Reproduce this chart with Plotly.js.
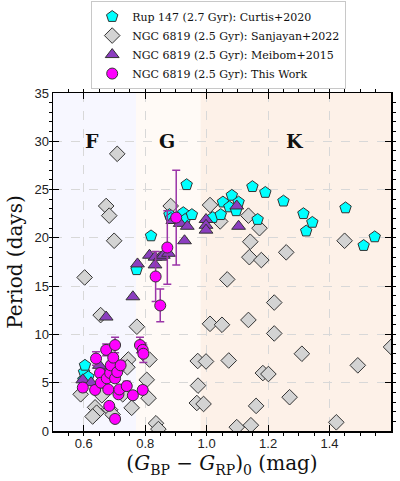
<!DOCTYPE html>
<html><head><meta charset="utf-8">
<script src="https://cdn.plot.ly/plotly-3.0.1.min.js"></script>
<style>html,body{margin:0;padding:0;background:#fff}#chart{width:400px;height:481px}</style>
</head><body><div id="chart"></div>
<script>
// Rup 147 (Curtis+2020)
const curtisX = [0.599,0.601,0.604,0.615,0.772,0.819,0.879,0.884,0.924,0.930,0.935,0.952,1.020,1.046,1.053,1.074,1.082,1.096,1.104,1.149,1.166,1.191,1.250,1.315,1.324,1.344,1.452,1.511,1.547];
const curtisY = [5.3,6.1,6.8,5.6,16.7,20.2,22.4,22.0,22.6,21.9,25.5,22.4,22.1,22.4,23.7,23.2,24.4,22.8,23.7,25.3,21.9,24.7,23.8,22.5,20.7,21.6,23.1,19.2,20.1];
// NGC 6819 (Sanjayan+2022)
const sanjX = [0.709,0.673,0.683,0.699,0.603,0.655,0.883,1.011,1.044,1.136,1.172,1.142,1.139,1.178,1.259,1.067,1.449,1.220,0.773,1.011,1.050,1.136,1.220,1.310,1.600,1.492,0.745,0.814,0.971,0.998,1.072,1.183,1.201,0.805,0.742,0.972,0.590,0.659,0.727,0.811,0.968,0.990,1.270,1.161,0.637,0.642,0.629,0.686,0.694,0.756,0.835,0.843,1.098,1.144,1.422];
const sanjY = [28.7,23.3,22.3,19.7,15.9,12.0,23.3,23.4,21.7,22.3,21.0,19.6,18.0,17.7,18.5,15.7,19.7,13.3,10.8,11.1,11.0,11.5,10.1,8.0,8.7,6.8,7.4,7.4,7.25,7.2,7.3,6.0,5.9,5.3,6.6,4.7,3.8,3.7,3.8,3.4,2.9,2.8,3.5,2.6,2.45,1.9,1.5,2.2,1.7,2.4,0.8,0.2,0.4,0.6,0.9];
// NGC 6819 (Meibom+2015)
const meibomX = [0.597,0.624,0.651,0.676,0.673,0.760,0.775,0.814,0.832,0.832,0.849,0.859,0.876,0.890,0.914,0.937,0.928,0.998,0.998,0.998,1.098,1.104];
const meibomY = [5.3,5.0,6.8,6.1,11.8,13.9,17.3,18.2,18.0,17.2,18.0,18.2,18.4,21.8,21.5,21.2,19.7,21.9,21.3,20.8,23.3,21.2];
// NGC 6819 (This Work)
const workX = [0.597,0.637,0.640,0.653,0.656,0.673,0.675,0.680,0.683,0.686,0.688,0.696,0.702,0.702,0.702,0.709,0.713,0.716,0.720,0.740,0.760,0.783,0.792,0.794,0.792,0.834,0.849,0.872,0.901];
const workY = [4.5,4.25,7.5,6.0,5.0,8.4,5.45,4.3,2.6,6.0,6.8,7.6,8.9,5.45,1.25,6.1,3.8,4.3,6.8,4.65,3.7,8.9,8.4,8.0,4.25,16.0,13.0,19.0,22.1];
const workErr = [0.4,0.3,0.7,0.4,0.3,0.6,0.3,0.3,0.3,0.3,0.4,0.4,0.8,0.3,0.2,0.4,0.3,0.3,0.5,0.5,0.3,0.8,0.7,0.9,0.4,2.6,1.7,3.8,4.9];

const names = ['Rup 147 (2.7 Gyr): Curtis+2020','NGC 6819 (2.5 Gyr): Sanjayan+2022','NGC 6819 (2.5 Gyr): Meibom+2015','NGC 6819 (2.5 Gyr): This Work'];
const regionEdges = [0.5, 0.77, 0.98, 1.6];
const regionColors = ['#f7f7ff','#fffaf6','#fdf1e8'];
const classLabels = ['F','G','K'];
const classX = [0.627, 0.871, 1.288];
const classY = [30, 30, 30];

const serif = 'DejaVu Serif, Liberation Serif, serif';
const sans = 'Liberation Sans, Arial, sans-serif';
const edge = {color:'#333', width:1};

const traces = [
  {x:sanjX, y:sanjY, mode:'markers', type:'scatter', name:names[1], legendrank:2,
   marker:{symbol:'diamond', size:12, color:'#d3d3d3', line:edge}},
  {x:curtisX, y:curtisY, mode:'markers', type:'scatter', name:names[0], legendrank:1,
   marker:{symbol:'pentagon', size:12, color:'#00ffff', line:edge}},
  {x:meibomX, y:meibomY, mode:'markers', type:'scatter', name:names[2], legendrank:3,
   marker:{symbol:'triangle-up', size:12, color:'#8b3dbf', line:edge}},
  {x:workX, y:workY, mode:'markers', type:'scatter', name:names[3], legendrank:4,
   error_y:{type:'data', array:workErr, visible:true, color:'#9b35a8', thickness:1.5, width:4},
   marker:{symbol:'circle', size:11, color:'#ff00ff', line:edge}}
];

const shapes = regionColors.map((c,i)=>({type:'rect', xref:'x', yref:'paper', x0:regionEdges[i], x1:regionEdges[i+1], y0:0, y1:1, fillcolor:c, line:{width:0}, layer:'below'}));
const annotations = classLabels.map((t,i)=>({x:classX[i], y:classY[i], xref:'x', yref:'y', text:'<b>'+t+'</b>', showarrow:false, font:{family:serif, size:19, color:'#111'}}));

const axisCommon = {
  showline:true, linecolor:'#000', linewidth:1.5, mirror:'ticks',
  ticks:'inside', ticklen:6, tickwidth:1, tickcolor:'#000',
  showgrid:true, gridcolor:'#d8d8d8', griddash:'dash', gridwidth:1,
  zeroline:false, tickfont:{family:sans, size:13, color:'#222'}
};

const layout = {
  width:400, height:481,
  margin:{l:53, r:9, t:93, b:50, autoexpand:false},
  paper_bgcolor:'#fff', plot_bgcolor:'rgba(0,0,0,0)',
  showlegend:true,
  legend:{x:0.113, y:1.272, xanchor:'left', yanchor:'top', bgcolor:'#fff', bordercolor:'#c8c8c8', borderwidth:1,
          font:{family:serif, size:11, color:'#111'}, tracegroupgap:0},
  xaxis:Object.assign({}, axisCommon, {range:[0.5,1.6], dtick:0.2, tick0:0.6, tickformat:'.1f',
    minor:{dtick:0.05, ticklen:3, tickcolor:'#000', showgrid:false},
    title:{text:'(<i>G</i><sub>BP</sub> − <i>G</i><sub>RP</sub>)<sub>0</sub> (mag)', font:{family:serif, size:20, color:'#111'}, standoff:6}}),
  yaxis:Object.assign({}, axisCommon, {range:[0,35], dtick:5,
    minor:{dtick:1, ticklen:3, tickcolor:'#000', showgrid:false},
    title:{text:'Period (days)', font:{family:serif, size:20, color:'#111'}, standoff:6}}),
  shapes:shapes, annotations:annotations
};

Plotly.newPlot('chart', traces, layout, {displayModeBar:false, staticPlot:true});
</script></body></html>
